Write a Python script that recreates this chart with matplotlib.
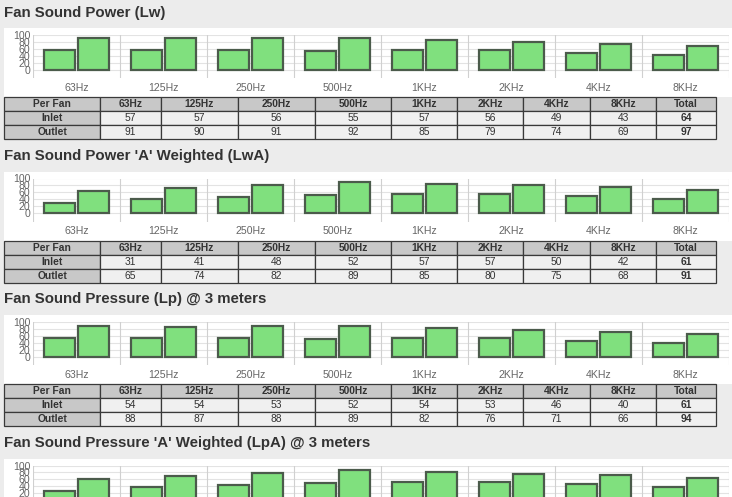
import matplotlib.pyplot as plt
from matplotlib.patches import Rectangle

plt.rcParams['font.family'] = ['Liberation Sans', 'DejaVu Sans']

# data
bands = ['63Hz', '125Hz', '250Hz', '500Hz', '1KHz', '2KHz', '4KHz', '8KHz']
titles = ["Fan Sound Power (Lw)",
          "Fan Sound Power 'A' Weighted (LwA)",
          "Fan Sound Pressure (Lp) @ 3 meters",
          "Fan Sound Pressure 'A' Weighted (LpA) @ 3 meters"]
inlet_lw = [57, 57, 56, 55, 57, 56, 49, 43]
outlet_lw = [91, 90, 91, 92, 85, 79, 74, 69]
inlet_lwa = [31, 41, 48, 52, 57, 57, 50, 42]
outlet_lwa = [65, 74, 82, 89, 85, 80, 75, 68]
inlet_lp = [54, 54, 53, 52, 54, 53, 46, 40]
outlet_lp = [88, 87, 88, 89, 82, 76, 71, 66]
inlet_lpa = [28, 38, 45, 49, 54, 54, 47, 39]
outlet_lpa = [62, 71, 79, 86, 82, 77, 72, 65]
totals_inlet = [64, 61, 61]
totals_outlet = [97, 91, 94]

inlets = [inlet_lw, inlet_lwa, inlet_lp, inlet_lpa]
outlets = [outlet_lw, outlet_lwa, outlet_lp, outlet_lpa]

W, H = 732, 497
fig = plt.figure(figsize=(W / 100, H / 100), dpi=100)
fig.patch.set_facecolor('#ececec')

bg = fig.add_axes([0, 0, 1, 1], zorder=0)
bg.set_xlim(0, W)
bg.set_ylim(H, 0)
bg.axis('off')


def axes_px(x0, y0, x1, y1):
    return fig.add_axes([x0 / W, 1 - y1 / H, (x1 - x0) / W, (y1 - y0) / H], zorder=2)


col_edges = [4, 100, 161, 238, 315, 391, 457, 523, 590, 656, 716]
pitch = 143.5
txt = '#333333'

for s in range(4):
    off = s * pitch
    last = (s == 3)    # the last section runs off the bottom of the page
    # title
    bg.text(4, 12.5 + off, titles[s], fontsize=10.8, fontweight='bold',
            color=txt, va='center', ha='left')
    # white panel behind chart
    bg.add_patch(Rectangle((4, 28 + off), W - 4, 69, facecolor='white',
                           edgecolor='none'))

    # bar chart
    ax = axes_px(33, 35 + off, 729, 78 + off)
    ax.patch.set_alpha(0)
    ax.set_xlim(-0.5, 7.5)
    ax.set_ylim(-22.9, 100)
    for v in range(0, 101, 20):
        ax.axhline(v, color='#e3e3e3', lw=0.8, zorder=0)
    for k in range(9):
        ax.axvline(k - 0.5, color='#d0d0d0', lw=0.8, zorder=0)
    x = range(len(bands))
    ax.bar([i - 0.195 for i in x], inlets[s], width=0.355, color='#80e07e',
           edgecolor='#4b5b4b', linewidth=1.6, zorder=2)
    ax.bar([i + 0.195 for i in x], outlets[s], width=0.355, color='#80e07e',
           edgecolor='#4b5b4b', linewidth=1.6, zorder=2)
    if last:
        ax.set_xticks([])
        ax.set_yticks(range(20, 101, 20))
    else:
        ax.set_xticks(list(x), bands)
        ax.set_yticks(range(0, 101, 20))
    ax.tick_params(length=0, labelsize=7.6, colors='#666666')
    ax.tick_params(axis='x', pad=3.5)
    ax.tick_params(axis='y', pad=2)
    for sp in ax.spines.values():
        sp.set_visible(False)

    if last:
        continue

    # table
    top = 97 + off
    rows = [['Per Fan'] + bands + ['Total'],
            ['Inlet'] + [str(v) for v in inlets[s]] + [str(totals_inlet[s])],
            ['Outlet'] + [str(v) for v in outlets[s]] + [str(totals_outlet[s])]]
    for r, row in enumerate(rows):
        y0 = top + r * 14
        for c, label in enumerate(row):
            x0, x1 = col_edges[c], col_edges[c + 1]
            grey = (r == 0 or c == 0)
            bg.add_patch(Rectangle((x0, y0), x1 - x0, 14,
                                   facecolor='#c8c8c8' if grey else '#f0f0f0',
                                   edgecolor='#3a3a3a', linewidth=0.9))
            bold = (r == 0 or c == 0 or c == len(row) - 1)
            bg.text((x0 + x1) / 2, y0 + 7.3, label, fontsize=7.4,
                    fontweight='bold' if bold else 'normal', color=txt,
                    ha='center', va='center')

fig.savefig('out.png', dpi=100, facecolor=fig.get_facecolor())
